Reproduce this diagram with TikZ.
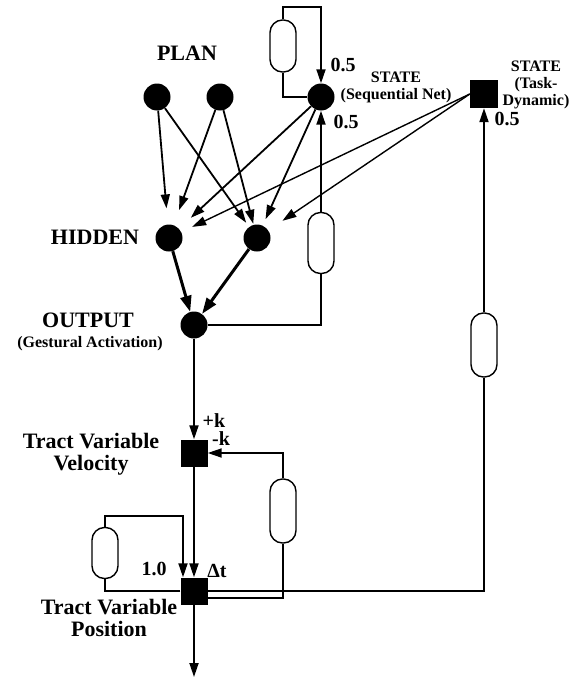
\documentclass[tikz,border=0pt]{standalone}
\usepackage{fontspec}
\setmainfont{Liberation Serif}
\usetikzlibrary{arrows.meta, positioning}

\begin{document}
\begin{tikzpicture}[x=1pt, y=-1pt,
        unit/.style={circle, fill=black, minimum size=27pt, inner sep=0pt},
        sqr/.style={rectangle, fill=black, minimum size=#1, inner sep=0pt},
        res/.style={rectangle, draw, fill=white, rounded corners=12.5pt, minimum width=26pt, minimum height=#1, inner sep=0pt, line width=1.4pt},
        lab/.style={font=\fontsize{22}{22}\selectfont\bfseries, align=center, inner sep=0pt},
        sub/.style={font=\fontsize{16}{17}\selectfont\bfseries, align=center, inner sep=0pt},
        wt/.style={font=\fontsize{20}{20}\selectfont\bfseries, inner sep=0pt},
        wire/.style={line width=1.8pt},
        con/.style={line width=1.8pt, -{Triangle[length=14pt,width=9pt]}},
        heavy/.style={line width=3pt, -{Triangle[length=16pt,width=11pt]}}
    ]
        \useasboundingbox (0,0) rectangle (579,680);

        % Plan and state units
        \node[unit] (plan1) at (157,97) {};
        \node[unit] (plan2) at (220,97) {};
        \node[unit] (seq) at (321,97) {};
        \node[sqr=28pt] (task) at (484,94) {};

        % Hidden and output units
        \node[unit] (hid1) at (169,238) {};
        \node[unit] (hid2) at (257,238) {};
        \node[unit] (out) at (194,325) {};

        % Tract variables
        \node[sqr=27pt] (vel) at (194,453) {};
        \node[sqr=27pt] (pos) at (194,591) {};

        % Delay elements
        \node[res=52pt] (dly1) at (283,46) {};
        \node[res=61pt] (dly2) at (321,243) {};
        \node[res=64pt] (dly3) at (484,345) {};
        \node[res=64pt] (dly4) at (283,511) {};
        \node[res=51pt] (dly5) at (105,553) {};

        \coordinate (top) at (321,7);
        \coordinate (lefttop) at (183,516);
        \coordinate (exit) at (194,677);

        % Labels
        \node[lab] (planlab) at (187,53) {PLAN};
        \node[lab] (hidlab) at (95,237) {HIDDEN};
        \node[lab] (outlab) at (88,320) {OUTPUT};
        \node[sub] (gestlab) at (90,344) {(Gestural Activation)};
        \node[lab] (vellab) at (91,454) {Tract Variable\\Velocity};
        \node[lab] (poslab) at (109,618) {Tract Variable\\Position};
        \node[sub] (seqlab) at (396,87) {STATE\\(Sequential Net)};
        \node[sub] (tasklab) at (536,85) {STATE\\(Task-\\Dynamic)};

        % Weights
        \node[wt] (w1) at (343,65) {0.5};
        \node[wt] (w2) at (346,122) {0.5};
        \node[wt] (w3) at (507,119) {0.5};
        \node[wt] (wpk) at (214,421) {+k};
        \node[wt] (wmk) at (221,439) {-k};
        \node[wt] (wone) at (154,569) {1.0};
        \node[wt] (wdt) at (217,571) {Δt};

        % Plan/state to hidden
        \draw[con, shorten >=16pt] (plan1) -- (hid1);
        \draw[con, shorten >=5pt] (plan1) -- (hid2);
        \draw[con, shorten >=16pt] (plan2) -- (hid1);
        \draw[con, shorten >=1pt] (plan2) -- (hid2);
        \draw[con, shorten >=16pt] (seq) -- (hid1);
        \draw[con, shorten >=7pt] (seq) -- (hid2);
        \draw[con, line width=1.4pt, shorten >=12pt] (task.west) -- (hid1);
        \draw[con, line width=1.4pt, shorten >=17pt] (task.west) -- (hid2);

        % Hidden to output
        \draw[heavy] (hid1) -- (out);
        \draw[heavy] (hid2) -- (out);

        % Sequential net recurrence
        \draw[wire] (seq.west) -| (dly1.south);
        \draw[con] (dly1.north) |- (top) -- (seq.north);
        \draw[wire] (out.east) -| (dly2.south);
        \draw[con] (dly2.north) -- (seq.south);

        % Output to tract variables
        \draw[con] (out.south) -- (vel.north);
        \draw[con] (vel.south) -- (pos.north);
        \draw[wire] ([yshift=-7pt]pos.east) -| (dly4.south);
        \draw[con] (dly4.north) |- (vel.east);
        \draw[wire] (pos.west) -| (dly5.south);
        \draw[con] (dly5.north) |- (lefttop) -- ([xshift=-11pt]pos.north);
        \draw[wire] (pos.east) -| (dly3.south);
        \draw[con] (dly3.north) -- (task.south);
        \draw[con] (pos.south) -- (exit);
    \end{tikzpicture}
\end{document}
